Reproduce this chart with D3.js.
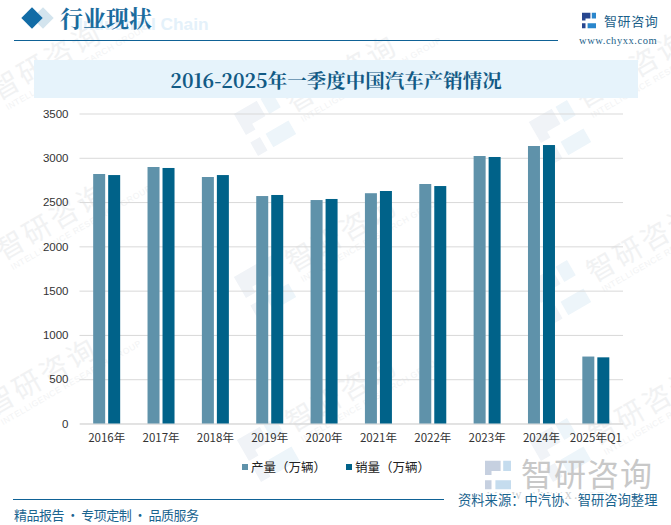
<!DOCTYPE html>
<html>
<head>
<meta charset="utf-8">
<script src="https://cdn.jsdelivr.net/npm/d3@7"></script>
<style>
html, body { margin: 0; padding: 0; background: #fff; }
svg { display: block; }
</style>
</head>
<body>
<div id="chart-area"></div>
<script>
const categories = ["2016年", "2017年", "2018年", "2019年", "2020年", "2021年", "2022年", "2023年", "2024年", "2025年Q1"];
const output = [2817, 2896, 2783, 2568, 2523, 2600, 2704, 3020, 3133, 756];
const sales = [2805, 2885, 2805, 2580, 2535, 2625, 2681, 3009, 3144, 747];
const yTicks = [0, 500, 1000, 1500, 2000, 2500, 3000, 3500];
const seriesNames = ["产量（万辆）", "销量（万辆）"];

const W = 671, H = 525;
const margin = {top: 113.5, right: 48, bottom: 101.5, left: 79.5};
const width = W - margin.left - margin.right;
const height = H - margin.top - margin.bottom;
const colorOut = "#5f92aa", colorSale = "#006289", blue = "#0f6296";
const serif = "'Noto Serif CJK SC','Liberation Serif','Noto Sans CJK SC',serif";
const sans = "'Noto Sans CJK SC',sans-serif";

const logoLeft = "M-10,-11H2V-3H-5V0H-10ZM-10,4H-5V11H-10Z";
const logoRight = "M4,-11H10V-3H4ZM-2,4H10V11H-2Z";

const svg = d3.select("#chart-area").append("svg")
    .attr("width", W)
    .attr("height", H);

// watermarks, behind everything
const wmText = [[-2, 101], [293, 113], [583, 109], [3, 261], [293, 273], [594, 283], [-7, 416], [293, 433], [596, 446]];
const wmLogo = [[265, 124], [560, 132], [265, 287], [560, 292], [268, 450], [560, 450]];

wmText.forEach(p => {
    const w = svg.append("g").attr("transform", `translate(${p[0]},${p[1]}) rotate(-30)`);
    w.append("text").attr("font-family", sans).attr("font-size", 28).attr("fill", "#f1f2f3")
        .attr("letter-spacing", 3).text("智研咨询");
    w.append("text").attr("x", 4).attr("y", 13).attr("font-family", "'Liberation Sans',sans-serif").attr("font-size", 8.5).attr("fill", "#f2f3f4")
        .attr("letter-spacing", 0.6).text("INTELLIGENCE RESEARCH GROUP");
});
wmLogo.forEach(p => {
    const l = svg.append("g").attr("transform", `translate(${p[0]},${p[1]}) rotate(-30) scale(2.2)`);
    l.append("path").attr("d", logoLeft).attr("fill", "#f0f3f7");
    l.append("path").attr("d", logoRight).attr("fill", "#edf5fa");
});

// page header
const diamond = d3.symbol().type(d3.symbolSquare).size(228);
svg.append("path").attr("d", diamond).attr("transform", "translate(43,18) rotate(45)").attr("fill", "#d3e4ee");
svg.append("path").attr("d", diamond).attr("transform", "translate(32,18) rotate(45)").attr("fill", "#126ca6");

svg.append("text").attr("x", 78).attr("y", 30)
    .attr("font-family", "'Liberation Sans',sans-serif").attr("font-weight", "bold").attr("font-size", 17.3)
    .attr("fill", "#e4f1fa").text("Industrial Chain");
svg.append("text").attr("x", 60).attr("y", 27)
    .attr("font-family", serif).attr("font-size", 23).attr("font-weight", "bold")
    .attr("fill", "#1b6c9e").text("行业现状");

svg.append("line").attr("x1", 14).attr("x2", 558).attr("y1", 40.5).attr("y2", 40.5)
    .attr("stroke", blue).attr("stroke-width", 1);

// logo top right
const topLogo = svg.append("g").attr("transform", "translate(589,20.5) scale(0.7)");
topLogo.append("path").attr("d", logoLeft).attr("fill", "#27468f");
topLogo.append("path").attr("d", logoRight).attr("fill", "#2a86cc");
svg.append("text").attr("x", 604).attr("y", 25.5)
    .attr("font-family", sans).attr("font-size", 13).attr("letter-spacing", 0.6)
    .attr("fill", "#1c5f8a").text("智研咨询");
svg.append("text").attr("x", 579).attr("y", 43.5)
    .attr("font-family", "'Liberation Serif',serif").attr("font-size", 10.5).attr("letter-spacing", 0.55)
    .attr("fill", "#1c5f8a").text("www.chyxx.com");

// title band
svg.append("rect").attr("x", 34).attr("y", 60).attr("width", 604).attr("height", 38).attr("fill", "#e6f3fb");
svg.append("text").attr("x", 336).attr("y", 88)
    .attr("text-anchor", "middle")
    .attr("font-family", serif).attr("font-size", 19.5).attr("font-weight", "bold")
    .attr("fill", "#125a85").text("2016-2025年一季度中国汽车产销情况");

// chart
const g = svg.append("g").attr("transform", `translate(${margin.left},${margin.top})`);

const x = d3.scaleBand().domain(categories).range([0, width]);
const y = d3.scaleLinear().domain([0, 3500]).range([height, 0]);

g.append("g")
    .call(d3.axisLeft(y).tickValues(yTicks).tickSize(-width).tickFormat(d => d))
    .call(a => a.select(".domain").remove())
    .call(a => a.selectAll("line").attr("stroke", "#d9d9d9").attr("stroke-width", 1))
    .call(a => a.selectAll("text")
        .attr("x", -11)
        .attr("font-family", "'Liberation Sans',sans-serif")
        .attr("font-size", 11.5)
        .attr("fill", "#333"));

g.append("g")
    .attr("transform", `translate(0,${height})`)
    .call(d3.axisBottom(x).tickSize(0))
    .call(a => a.select(".domain").attr("stroke", "#d9d9d9"))
    .call(a => a.selectAll("text")
        .attr("y", 10)
        .attr("font-family", sans)
        .attr("font-size", 11.5)
        .attr("fill", "#333"));

const barW = 12, gap = 3;
g.selectAll(".bar-out").data(categories).enter().append("rect")
    .attr("class", "bar-out")
    .attr("x", d => x(d) + x.bandwidth() / 2 - barW - gap / 2)
    .attr("y", (d, i) => y(output[i]))
    .attr("width", barW)
    .attr("height", (d, i) => height - y(output[i]))
    .attr("fill", colorOut);
g.selectAll(".bar-sale").data(categories).enter().append("rect")
    .attr("class", "bar-sale")
    .attr("x", d => x(d) + x.bandwidth() / 2 + gap / 2)
    .attr("y", (d, i) => y(sales[i]))
    .attr("width", barW)
    .attr("height", (d, i) => height - y(sales[i]))
    .attr("fill", colorSale);

// legend
const legendX = [242, 346];
seriesNames.forEach((name, i) => {
    svg.append("rect").attr("x", legendX[i]).attr("y", 464).attr("width", 6).attr("height", 6)
        .attr("fill", i ? colorSale : colorOut);
    svg.append("text").attr("x", legendX[i] + 9).attr("y", 472)
        .attr("font-family", sans).attr("font-size", 12.5).attr("fill", "#222").text(name);
});

// footer
const footLogo = svg.append("g").attr("transform", "translate(498,475) scale(1.3)");
footLogo.append("path").attr("d", logoLeft).attr("fill", "#c6d0e0");
footLogo.append("path").attr("d", logoRight).attr("fill", "#c5dcee");
svg.append("text").attr("x", 521).attr("y", 486)
    .attr("font-family", sans).attr("font-size", 32).attr("letter-spacing", 1)
    .attr("fill", "#c8c8c8").text("智研咨询");
svg.append("text").attr("x", 487).attr("y", 499)
    .attr("font-family", "'Liberation Serif',serif").attr("font-size", 14).attr("letter-spacing", 2.2)
    .attr("fill", "#cfcfcf").text("www.chyxx.com");

svg.append("line").attr("x1", 13).attr("x2", 444).attr("y1", 499.5).attr("y2", 499.5)
    .attr("stroke", blue).attr("stroke-width", 1);
svg.append("text").attr("x", 14).attr("y", 520)
    .attr("font-family", sans).attr("font-size", 13).attr("fill", "#1a648f")
    .attr("textLength", 185).attr("lengthAdjust", "spacing")
    .text("精品报告 · 专项定制 · 品质服务");
svg.append("text").attr("x", 458).attr("y", 505)
    .attr("font-family", sans).attr("font-size", 13.3).attr("fill", "#1a648f")
    .attr("stroke", "#fff").attr("stroke-width", 3).attr("paint-order", "stroke")
    .text("资料来源：中汽协、智研咨询整理");
</script>
</body>
</html>
